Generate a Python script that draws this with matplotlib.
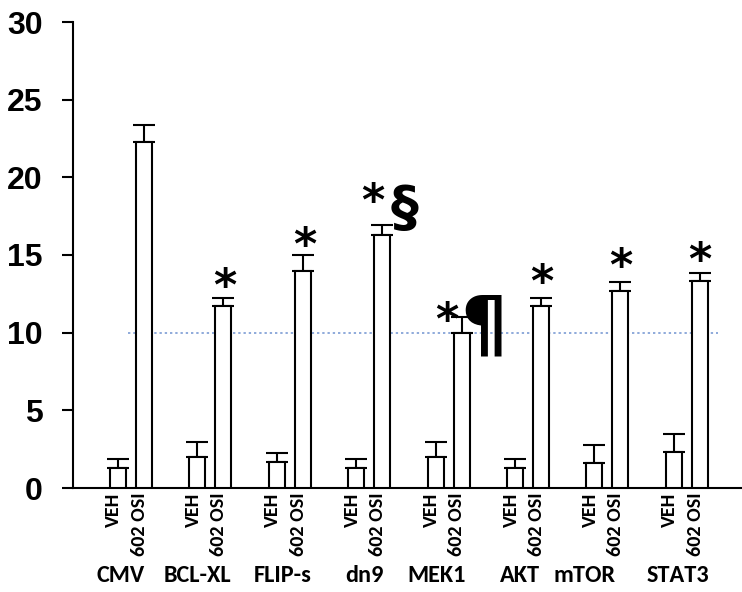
import matplotlib
matplotlib.use("Agg")
import matplotlib.pyplot as plt
import numpy as np

groups = ["CMV", "BCL-XL", "FLIP-s", "dn9", "MEK1", "AKT", "mTOR", "STAT3"]
veh_vals = [1.3, 2.0, 1.65, 1.3, 2.0, 1.3, 1.63, 2.32]
veh_err = [0.55, 0.96, 0.58, 0.55, 0.96, 0.59, 1.14, 1.16]
osi_vals = [22.3, 11.7, 14.0, 16.3, 10.0, 11.7, 12.66, 13.3]
osi_err = [1.1, 0.55, 1.0, 0.6, 1.0, 0.55, 0.58, 0.57]
sig_marks = ["", "*", "*", "*", "*", "*", "*", "*"]
extra_marks = ["", "", "", "§", "¶", "", "", ""]
ref_level = 10
yticks = [0, 5, 10, 15, 20, 25, 30]

W, H = 742, 592
fig = plt.figure(figsize=(W/100, H/100), dpi=100)
ax = fig.add_axes([73/W, 104/H, 669/W, 466/H])

# pixel helpers for annotation placement (layout only)
PX = 79.4          # pixels per group unit
PY = 466/30        # pixels per y unit

x = np.arange(len(groups))
off = 0.164
w = 0.2
xv = x - off
xo = x + off

ax.bar(xv, veh_vals, width=w, facecolor="white", edgecolor="black", linewidth=1.5, zorder=3)
ax.bar(xo, osi_vals, width=w, facecolor="white", edgecolor="black", linewidth=1.5, zorder=3)
ax.errorbar(xv, veh_vals, yerr=[np.zeros(len(x)), veh_err], fmt="none", ecolor="black",
            elinewidth=1.5, capsize=8, capthick=1.5, zorder=2)
ax.errorbar(xo, osi_vals, yerr=[np.zeros(len(x)), osi_err], fmt="none", ecolor="black",
            elinewidth=1.5, capsize=8, capthick=1.5, zorder=2)

ax.plot([-0.04, 7.39], [ref_level, ref_level], linestyle=(0, (1.2, 1.5)), color="#8eaadb",
        linewidth=1.4, zorder=1)

ax.set_xlim(-0.73, 7.695)
ax.set_ylim(0, 30)
ax.set_yticks(yticks)
ax.set_yticklabels([str(t) for t in yticks], fontsize=23, fontweight="bold",
                   family=["Liberation Sans", "DejaVu Sans"])
ax.tick_params(axis="y", direction="out", length=8, width=1.5, pad=14)
ax.set_xticks([])
for s in ["top", "right"]:
    ax.spines[s].set_visible(False)
ax.spines["left"].set_linewidth(1.5)
ax.spines["bottom"].set_linewidth(1.5)

lab_font = ["Carlito", "Open Sans", "DejaVu Sans"]
for i in range(len(groups)):
    ax.text(xv[i] - 0.05, -0.3, "VEH", rotation=90, ha="center", va="top", fontsize=14.5,
            fontweight="bold", family=lab_font)
    ax.text(xo[i] - 0.06, -0.3, "602 OSI", rotation=90, ha="center", va="top", fontsize=14.5,
            fontweight="bold", family=lab_font)

grp_px = [121, 197, 283, 364, 437, 520, 585, 678]
for gp, g in zip(grp_px, groups):
    ax.text((gp - 131) / PX, -6.05, g, ha="center", va="baseline", fontsize=17.5,
            fontweight="bold", family=lab_font)

# target ink centres of the significance marks (pixels in the reference)
star_px = [None, (225, 277), (305, 236), (372.5, 192), (447, 311), (541.7, 272.5),
           (621, 257.5), (700, 251)]
star_fs = 32
star_lift = 32  # px between va-bottom anchor and ink centre
for i in range(len(groups)):
    if sig_marks[i] and star_px[i]:
        px, py = star_px[i]
        ax.text((px - 131) / PX, (488 - py - star_lift) / PY, sig_marks[i], ha="center",
                va="bottom", fontsize=star_fs, fontweight="bold", family="DejaVu Sans", zorder=5)
    if extra_marks[i] == "§":
        ax.text((405 - 131) / PX, (488 - 207 - 30) / PY, "§", ha="center", va="bottom",
                fontsize=40, fontweight="bold", family="DejaVu Sans", zorder=5)
    if extra_marks[i] == "¶":
        ax.text((484 - 131) / PX, (488 - 327.5 - 37) / PY, "¶", ha="center", va="bottom",
                fontsize=53, fontweight="bold", family="DejaVu Sans", zorder=5)

fig.savefig("out.png", dpi=100)
